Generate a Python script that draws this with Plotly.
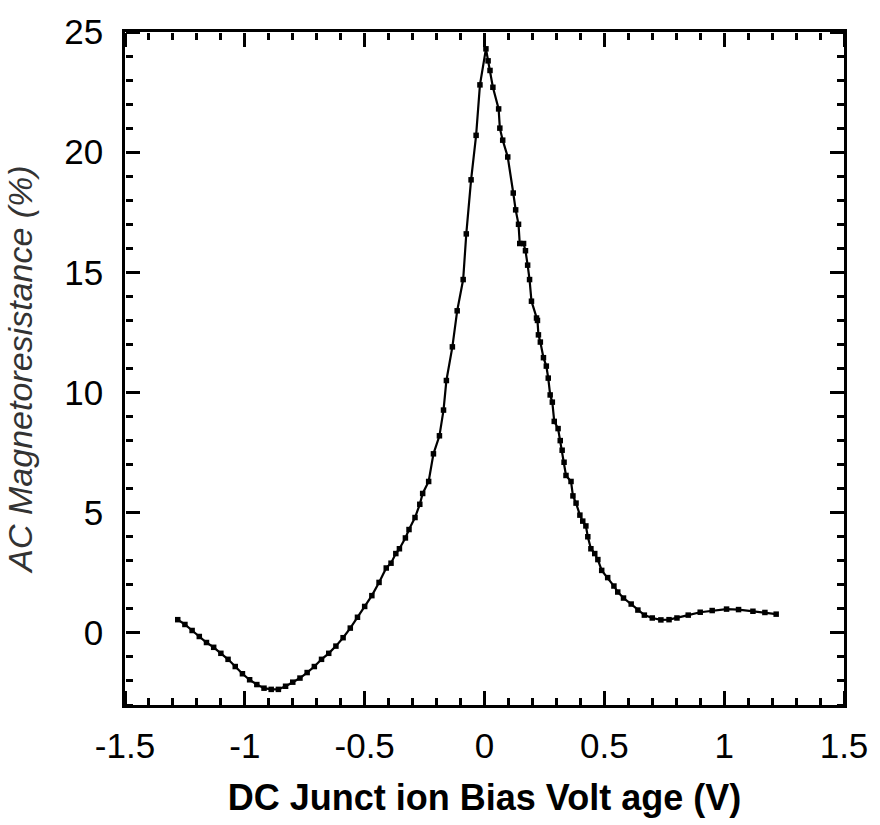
import plotly.graph_objects as go

bias_v = [-1.28, -1.25, -1.22, -1.19, -1.16, -1.13, -1.10, -1.07, -1.04, -1.01,
          -0.98, -0.95, -0.92, -0.89, -0.86, -0.83, -0.80, -0.77, -0.74, -0.71,
          -0.68, -0.65, -0.62, -0.59, -0.56, -0.53, -0.50, -0.47, -0.44, -0.41,
          -0.39, -0.37, -0.355, -0.33, -0.315, -0.29, -0.27, -0.258, -0.233, -0.213,
          -0.188, -0.171, -0.159, -0.134, -0.114, -0.089, -0.076, -0.056, -0.035, -0.019,
          0.006, 0.015, 0.023, 0.035, 0.059, 0.064, 0.076, 0.097, 0.12, 0.13,
          0.142, 0.147, 0.163, 0.171, 0.18, 0.188, 0.196, 0.217, 0.221, 0.225,
          0.233, 0.246, 0.258, 0.266, 0.274, 0.283, 0.291, 0.307, 0.316, 0.324,
          0.332, 0.34, 0.361, 0.369, 0.382, 0.398, 0.41, 0.423, 0.431, 0.444,
          0.46, 0.473, 0.489, 0.514, 0.54, 0.556, 0.58, 0.612, 0.64, 0.667,
          0.70, 0.736, 0.77, 0.803, 0.85, 0.90, 0.95, 1.01, 1.06, 1.12,
          1.17, 1.217]
ac_mr = [0.55, 0.35, 0.10, -0.15, -0.40, -0.60, -0.85, -1.10, -1.40, -1.70,
         -1.95, -2.15, -2.30, -2.35, -2.35, -2.22, -2.05, -1.88, -1.65, -1.40,
         -1.10, -0.85, -0.55, -0.20, 0.20, 0.65, 1.10, 1.55, 2.10, 2.70,
         2.90, 3.30, 3.50, 3.95, 4.30, 4.80, 5.35, 5.80, 6.30, 7.45,
         8.20, 9.27, 10.5, 11.9, 13.4, 14.7, 16.6, 18.85, 20.7, 22.8,
         24.3, 23.8, 23.4, 22.7, 21.8, 21.0, 20.5, 19.8, 18.3, 17.6,
         17.0, 16.2, 16.2, 15.9, 15.3, 14.7, 13.8, 13.1, 13.0, 12.4,
         12.1, 11.45, 11.1, 10.6, 9.9, 9.6, 8.8, 8.5, 8.0, 7.6,
         7.1, 6.55, 6.3, 5.7, 5.4, 4.9, 4.65, 4.45, 4.0, 3.5,
         3.3, 3.05, 2.6, 2.3, 1.95, 1.7, 1.45, 1.2, 0.95, 0.74,
         0.62, 0.54, 0.55, 0.62, 0.74, 0.86, 0.93, 0.99, 0.97, 0.90,
         0.85, 0.78]

x_ticks = [-1.5, -1, -0.5, 0, 0.5, 1, 1.5]
x_tick_text = ["-1.5", "-1", "-0.5", "0", "0.5", "1", "1.5"]
y_ticks = [0, 5, 10, 15, 20, 25]
y_tick_text = ["0", "5", "10", "15", "20", "25"]
x_range = [-1.5, 1.5]
y_range = [-3, 25]
x_major_step = 0.5
y_major_step = 5
x_minor_step = 0.1
y_minor_step = 1

fig = go.Figure()
fig.add_trace(go.Scatter(
    x=bias_v, y=ac_mr, mode="lines+markers",
    line=dict(color="black", width=2.2),
    marker=dict(symbol="square", size=5.5, color="black"),
    showlegend=False,
))

# invisible helper traces so each tick-only overlay axis pair is drawn
for k in range(2, 6):
    fig.add_trace(go.Scatter(
        x=[bias_v[0]], y=[ac_mr[0]], xaxis=f"x{k}", yaxis=f"y{k}",
        mode="markers", marker=dict(opacity=0), showlegend=False, hoverinfo="skip",
    ))

tick_font = dict(family="Liberation Sans, Arial, sans-serif", size=35, color="black")

layout = dict(
    xaxis=dict(
        range=x_range, tickmode="array", tickvals=x_ticks, ticktext=x_tick_text,
        showgrid=False, zeroline=False,
        showline=True, linecolor="black", linewidth=2.5, mirror=True,
        ticks="", tickfont=tick_font, ticklabelstandoff=8,
        title=dict(text="DC Junct ion Bias Volt age (V)",
                   font=dict(family="Liberation Sans, Arial",
                             size=36, color="black", weight="bold"),
                   standoff=22),
    ),
    yaxis=dict(
        range=y_range, tickmode="array", tickvals=y_ticks, ticktext=y_tick_text,
        showgrid=False, zeroline=False,
        showline=True, linecolor="black", linewidth=2.5, mirror=True,
        ticks="", tickfont=tick_font, ticklabelstandoff=12,
        title=dict(text="AC Magnetoresistance (%)",
                   font=dict(family="Liberation Sans, Arial, sans-serif", size=34,
                             color="#333333", style="italic"),
                   standoff=22),
    ),
    width=880, height=825,
    margin=dict(l=125, r=28, t=24, b=120),
    paper_bgcolor="white", plot_bgcolor="white",
)

tick_style = dict(showgrid=False, zeroline=False, showline=False,
                  showticklabels=False, ticks="outside", tickwidth=2.5,
                  tickcolor="black", anchor="free", tickmode="linear")

# x tick marks: major/minor, pointing up from the bottom edge and down from the top edge
for k, (side, pos, major) in zip(range(2, 6), [("top", 0, True), ("top", 0, False),
                                               ("bottom", 1, True), ("bottom", 1, False)]):
    ax = dict(overlaying="x", side=side, position=pos, range=x_range, **tick_style)
    if major:
        ax.update(tick0=x_range[0], dtick=x_major_step, ticklen=14)
    else:
        ax.update(tick0=x_range[0], dtick=x_minor_step, ticklen=7)
    layout[f"xaxis{k}"] = ax

# y tick marks: pointing right from the left edge and left from the right edge
for k, (side, pos, major) in zip(range(2, 6), [("right", 0, True), ("right", 0, False),
                                               ("left", 1, True), ("left", 1, False)]):
    ax = dict(overlaying="y", side=side, position=pos, range=y_range, **tick_style)
    if major:
        ax.update(tick0=0, dtick=y_major_step, ticklen=14)
    else:
        ax.update(tick0=0, dtick=y_minor_step, ticklen=7)
    layout[f"yaxis{k}"] = ax

fig.update_layout(**layout)

fig.write_html("out.html")
